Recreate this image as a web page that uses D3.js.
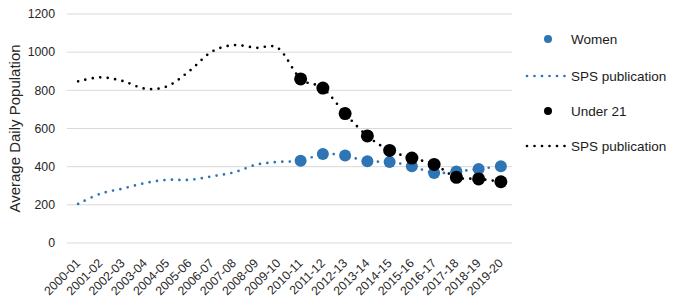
<!DOCTYPE html>
<html>
<head>
<meta charset="utf-8">
<script src="https://cdn.jsdelivr.net/npm/d3@7"></script>
<style>
  body { margin: 0; background: #fff; }
  text { font-family: "Liberation Sans", Arial, sans-serif; }
</style>
</head>
<body>
<div id="chart"></div>
<script>
var years = ["2000-01", "2001-02", "2002-03", "2003-04", "2004-05", "2005-06", "2006-07",
    "2007-08", "2008-09", "2009-10", "2010-11", "2011-12", "2012-13", "2013-14", "2014-15",
    "2015-16", "2016-17", "2017-18", "2018-19", "2019-20"];
var recentYears = years.slice(10);

// SPS publication series (full run) and the newer point series
var womenSps = [205, 258, 285, 314, 331, 331, 349, 370, 410, 425,
    431, 466, 458, 428, 425, 402, 367, 375, 388, 402];
var women = [431, 466, 458, 428, 425, 402, 367, 375, 388, 402];
var under21Sps = [847, 868, 849, 809, 821, 901, 1002, 1037, 1023, 1020,
    860, 812, 678, 561, 485, 445, 412, 344, 336, 321];
var under21 = [860, 812, 678, 561, 485, 445, 412, 344, 336, 321];
var yTicks = [0, 200, 400, 600, 800, 1000, 1200];

var legendItems = [
    { label: "Women", type: "dot", color: "#2E75B6" },
    { label: "SPS publication", type: "line", color: "#2E75B6" },
    { label: "Under 21", type: "dot", color: "#000000" },
    { label: "SPS publication", type: "line", color: "#000000" }
];

var w = 675;
var h = 301;
var plotLeft = 67, plotRight = 512, plotTop = 14, plotBottom = 243;

var svg = d3.select("#chart")
    .append("svg")
    .attr("width", w)
    .attr("height", h);

var xScale = d3.scaleBand()
    .domain(years)
    .range([plotLeft, plotRight]);

var yScale = d3.scaleLinear()
    .domain([0, 1200])
    .range([plotBottom, plotTop]);

var cx = function(y) { return xScale(y) + xScale.bandwidth() / 2; };

// gridlines
svg.append("g")
    .selectAll("line")
    .data(yTicks)
    .enter().append("line")
    .attr("x1", plotLeft)
    .attr("x2", plotRight)
    .attr("y1", function(d) { return yScale(d); })
    .attr("y2", function(d) { return yScale(d); })
    .attr("stroke", "#d9d9d9")
    .attr("stroke-width", 1);

// y tick labels
svg.append("g")
    .selectAll("text")
    .data(yTicks)
    .enter().append("text")
    .attr("x", 55)
    .attr("y", function(d) { return yScale(d); })
    .attr("dy", "0.35em")
    .attr("text-anchor", "end")
    .attr("fill", "#262626")
    .style("font-size", "12.3px")
    .text(function(d) { return d; });

// x tick labels, rotated
svg.append("g")
    .selectAll("text")
    .data(years)
    .enter().append("text")
    .attr("text-anchor", "end")
    .attr("transform", function(d) { return "translate(" + (cx(d) + 3) + ",264) rotate(-45)"; })
    .attr("fill", "#262626")
    .style("font-size", "12.3px")
    .text(function(d) { return d; });

// y axis title
svg.append("text")
    .attr("transform", "translate(20," + ((plotTop + plotBottom) / 2) + ") rotate(-90)")
    .attr("text-anchor", "middle")
    .attr("fill", "#262626")
    .style("font-size", "15px")
    .text("Average Daily Population");

var line = d3.line()
    .x(function(d, i) { return cx(years[i]); })
    .y(function(d) { return yScale(d); })
    .curve(d3.curveCardinal.tension(0));

function dotted(sel, color) {
    sel.attr("fill", "none")
        .attr("stroke", color)
        .attr("stroke-width", 2.7)
        .attr("stroke-linecap", "round")
        .attr("stroke-dasharray", "0,7.5");
}

function markers(values, color, r) {
    svg.append("g")
        .selectAll("circle")
        .data(values)
        .enter().append("circle")
        .attr("cx", function(d, i) { return cx(recentYears[i]); })
        .attr("cy", function(d) { return yScale(d); })
        .attr("r", r)
        .attr("fill", color);
}

markers(women, "#2E75B6", 6);
svg.append("path").datum(womenSps).attr("d", line).call(dotted, "#2E75B6");
markers(under21, "#000000", 6.5);
svg.append("path").datum(under21Sps).attr("d", line).call(dotted, "#000000");

// legend
var legendY = [39, 76, 111, 146];
var legend = svg.append("g")
    .selectAll("g")
    .data(legendItems)
    .enter().append("g")
    .attr("transform", function(d, i) { return "translate(0," + legendY[i] + ")"; });

legend.filter(function(d) { return d.type === "dot"; })
    .append("circle")
    .attr("cx", 548)
    .attr("cy", 0)
    .attr("r", 4)
    .attr("fill", function(d) { return d.color; });

legend.filter(function(d) { return d.type === "line"; })
    .append("line")
    .attr("x1", 527)
    .attr("x2", 566)
    .attr("y1", 0)
    .attr("y2", 0)
    .each(function(d) { d3.select(this).call(dotted, d.color); });

legend.append("text")
    .attr("x", 571)
    .attr("dy", "0.35em")
    .attr("fill", "#1a1a1a")
    .style("font-size", "13.5px")
    .text(function(d) { return d.label; });
</script>
</body>
</html>
